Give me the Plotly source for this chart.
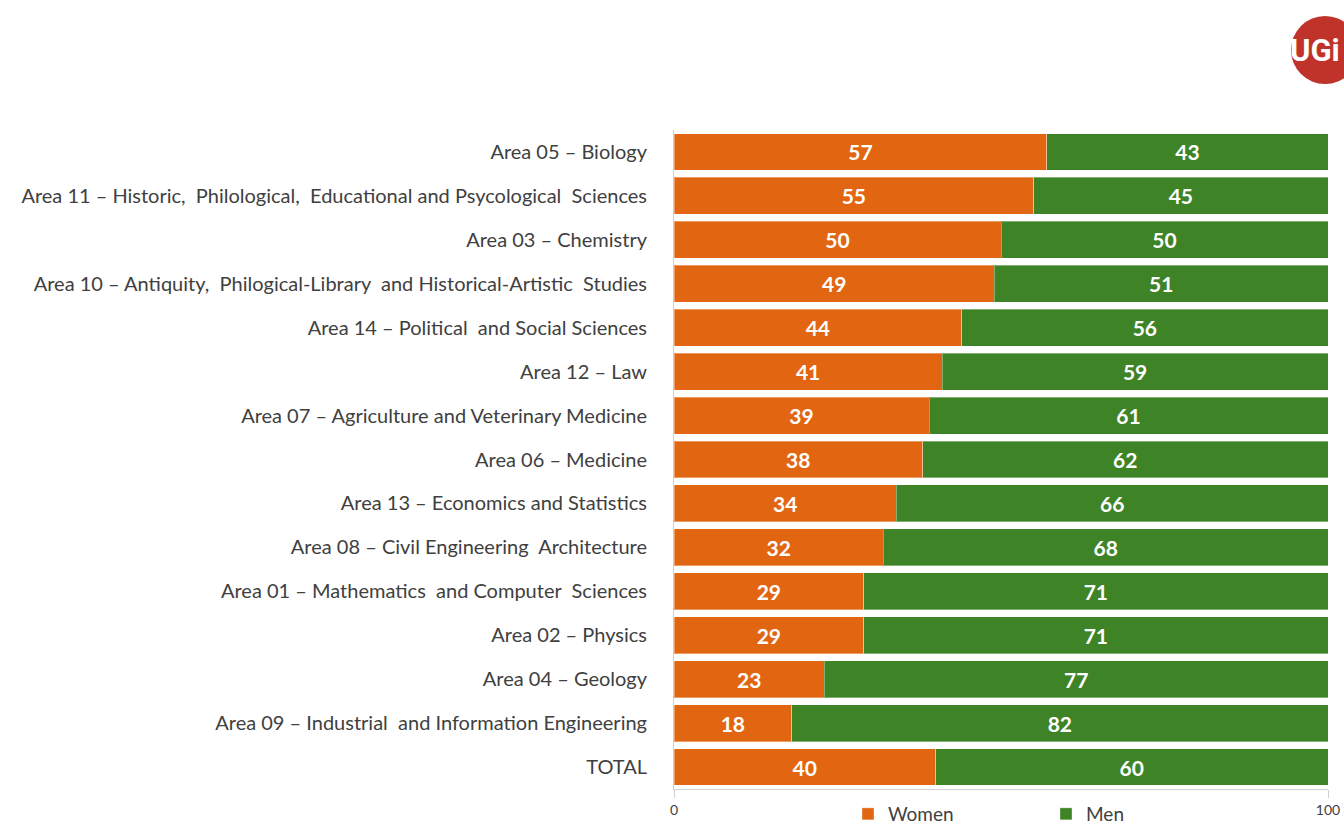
import plotly.graph_objects as go

areas = [
    "Area 05 \u2013 Biology",
    "Area 11 \u2013 Historic,  Philological,  Educational and Psycological  Sciences",
    "Area 03 \u2013 Chemistry",
    "Area 10 \u2013 Antiquity,  Philogical-Library  and Historical-Artistic  Studies",
    "Area 14 \u2013 Political  and Social Sciences",
    "Area 12 \u2013 Law",
    "Area 07 \u2013 Agriculture and Veterinary Medicine",
    "Area 06 \u2013 Medicine",
    "Area 13 \u2013 Economics and Statistics",
    "Area 08 \u2013 Civil Engineering  Architecture",
    "Area 01 \u2013 Mathematics  and Computer  Sciences",
    "Area 02 \u2013 Physics",
    "Area 04 \u2013 Geology",
    "Area 09 \u2013 Industrial  and Information Engineering",
    "TOTAL",
]
women = [57, 55, 50, 49, 44, 41, 39, 38, 34, 32, 29, 29, 23, 18, 40]
men = [43, 45, 50, 51, 56, 59, 61, 62, 66, 68, 71, 71, 77, 82, 60]

ORANGE = "#E26611"
GREEN = "#3E8426"
FONT = "Lato"

W, H = 1344, 827
ML, MR, MT, MB = 674, 16, 130, 38
PW, PH = W - ML - MR, H - MT - MB


def px_x(x):
    return (x - ML) / PW


def px_y(y):
    return (H - MB - y) / PH


fig = go.Figure()
for name, vals, col in [("Women", women, ORANGE), ("Men", men, GREEN)]:
    fig.add_trace(go.Bar(
        name=name, y=areas, x=vals, orientation="h",
        marker=dict(color=col, line=dict(color="rgba(255,255,255,0.35)", width=1)),
        text=[str(v) for v in vals], textposition="inside", insidetextanchor="middle",
        textfont=dict(family=FONT, size=21, color="white", weight="bold"),
        hoverinfo="x+y+name",
    ))

fig.update_layout(
    barmode="stack",
    bargap=0.16,
    width=W, height=H,
    margin=dict(l=ML, r=MR, t=MT, b=MB, autoexpand=False),
    paper_bgcolor="white", plot_bgcolor="white",
    font=dict(family=FONT, color="#404040"),
    uniformtext=dict(mode="show", minsize=10),
    showlegend=True,
    legend=dict(orientation="h", x=px_x(848), xanchor="left", y=px_y(814), yanchor="middle",
                font=dict(family=FONT, size=19, color="#404040"),
                entrywidth=153, traceorder="normal", itemwidth=30),
    xaxis=dict(range=[0, 100], tickvals=[0, 100], ticktext=["0", "100"],
               showgrid=False, zeroline=False, showline=True, linecolor="#D0D0D0",
               linewidth=1, ticks="outside", tickcolor="#D0D0D0", ticklen=8,
               automargin=False,
               tickfont=dict(family=FONT, size=14, color="#404040")),
    yaxis=dict(autorange="reversed", showgrid=False, showline=True, linecolor="#D0D0D0",
               linewidth=1, ticks="", ticklabelstandoff=22, automargin=False,
               tickfont=dict(family=FONT, size=20, color="#404040")),
)

# Logo badge in the top-right corner
fig.add_shape(type="circle", xref="paper", yref="paper",
              x0=px_x(1291), x1=px_x(1359), y0=px_y(84), y1=px_y(16),
              fillcolor="#C0332B", line=dict(width=0), layer="above")
fig.add_annotation(text="<b>UGi</b>", xref="paper", yref="paper",
                   x=px_x(1342), xanchor="right", y=px_y(51), yanchor="middle",
                   showarrow=False,
                   font=dict(family="Roboto", size=31, color="white"))

fig.write_html("out.html")
